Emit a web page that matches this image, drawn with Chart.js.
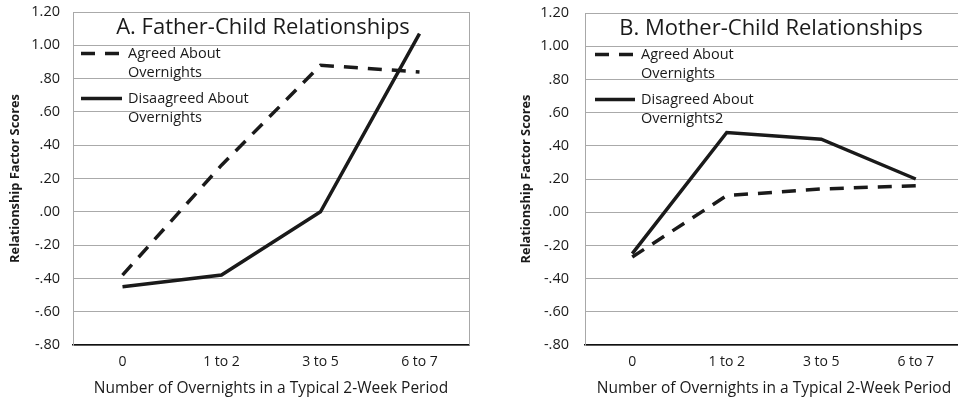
<!DOCTYPE html>
<html>

<head>
    <title>Overnights and Relationships</title>
    <script src="https://cdn.jsdelivr.net/npm/chart.js"></script>
    <style>
        body {
            margin: 0;
            width: 958px;
            height: 402px;
            overflow: hidden;
            background: #fff;
            position: relative;
        }

        .panel {
            position: absolute;
            top: 0;
            height: 402px;
        }

        #panel-a {
            left: 0;
            width: 478px;
        }

        #panel-b {
            left: 478px;
            width: 490px;
        }
    </style>
</head>

<body>
    <div class="panel" id="panel-a"><canvas id="chart-a"></canvas></div>
    <div class="panel" id="panel-b"><canvas id="chart-b"></canvas></div>

    <script>
        // data
        const categories = ['0', '1 to 2', '3 to 5', '6 to 7'];
        const yTickLabels = ['-.80', '-.60', '-.40', '-.20', '.00', '.20', '.40', '.60', '.80', '1.00', '1.20'];

        const fatherAgreed = [-0.38, 0.28, 0.88, 0.84];
        const fatherDisagreed = [-0.45, -0.38, 0.00, 1.07];
        const motherAgreed = [-0.27, 0.10, 0.14, 0.16];
        const motherDisagreed = [-0.25, 0.48, 0.44, 0.20];

        const titleA = 'A. Father-Child Relationships';
        const titleB = 'B. Mother-Child Relationships';
        const labelsA = [['Agreed About', 'Overnights'], ['Disaagreed About', 'Overnights']];
        const labelsB = [['Agreed About', 'Overnights'], ['Disagreed About', 'Overnights2']];

        const xTitle = 'Number of Overnights in a Typical 2-Week Period';
        const yTitle = 'Relationship Factor Scores';

        const FONT = "'Open Sans', 'Noto Sans', sans-serif";
        const INK = '#1a1a1a';
        const DASH = [14, 10];

        // title + legend drawn inside the plot area
        const innerPlugin = {
            id: 'inner',
            afterDraw(chart, args, opts) {
                const ctx = chart.ctx;
                const a = chart.chartArea;
                ctx.save();
                // right frame line
                ctx.strokeStyle = '#a8a8a8';
                ctx.lineWidth = 1;
                ctx.beginPath();
                ctx.moveTo(a.right + 0.5, a.top);
                ctx.lineTo(a.right + 0.5, a.bottom);
                ctx.stroke();

                // title
                ctx.fillStyle = INK;
                ctx.font = '22px ' + FONT;
                ctx.textAlign = 'center';
                ctx.textBaseline = 'middle';
                ctx.fillText(opts.title, (a.left + a.right) / 2 + opts.titleShift, a.top + 16);

                // legend
                ctx.font = '14.5px ' + FONT;
                ctx.textAlign = 'left';
                chart.data.datasets.forEach((ds, i) => {
                    const y = a.top + 41.5 + i * 45;
                    const x0 = a.left + opts.legendX;
                    ctx.strokeStyle = INK;
                    ctx.lineWidth = 3.3;
                    ctx.setLineDash(ds.borderDash || []);
                    ctx.beginPath();
                    ctx.moveTo(x0, y);
                    ctx.lineTo(x0 + opts.legendLen, y);
                    ctx.stroke();
                    ctx.setLineDash([]);
                    ds.label.forEach((t, j) => {
                        ctx.fillText(t, x0 + opts.legendLen + 6, y + j * 19.5);
                    });
                });
                ctx.restore();
            }
        };

        function makeChart(id, agreed, disagreed, labels, title, o) {
            const ctx = document.getElementById(id).getContext('2d');
            return new Chart(ctx, {
                type: 'line',
                data: {
                    labels: categories,
                    datasets: [{
                        label: labels[0],
                        data: agreed,
                        borderColor: INK,
                        borderWidth: 3.5,
                        borderDash: DASH,
                        pointRadius: 0,
                        fill: false,
                        tension: 0
                    }, {
                        label: labels[1],
                        data: disagreed,
                        borderColor: INK,
                        borderWidth: 3.5,
                        pointRadius: 0,
                        fill: false,
                        tension: 0
                    }]
                },
                options: {
                    responsive: true,
                    maintainAspectRatio: false,
                    animation: false,
                    layout: { padding: { top: o.top, right: o.right, left: 0, bottom: 0 } },
                    plugins: {
                        legend: { display: false },
                        tooltip: { enabled: false },
                        inner: { title: title, titleShift: o.titleShift, legendX: o.legendX, legendLen: o.legendLen }
                    },
                    scales: {
                        x: {
                            offset: true,
                            grid: { display: false, drawTicks: false },
                            border: { display: true, color: '#111', width: 1.5 },
                            ticks: { color: INK, padding: 9, font: { family: FONT, size: 14 } },
                            title: {
                                display: true, text: xTitle, color: INK,
                                font: { family: FONT, size: 15.5 }, padding: { top: 0, bottom: 4 }
                            },
                            afterFit: s => { s.height = 57; }
                        },
                        y: {
                            min: -0.8,
                            max: 1.2,
                            grid: { color: '#aaaaaa', lineWidth: 1, drawTicks: false },
                            border: { display: true, color: '#a8a8a8' },
                            ticks: {
                                stepSize: 0.2,
                                color: INK,
                                padding: o.tickPad,
                                font: { family: FONT, size: 14.5 },
                                callback: (v, i) => yTickLabels[i]
                            },
                            title: {
                                display: true, text: yTitle, color: INK,
                                font: { family: FONT, size: 12.8, weight: 'bold' }, padding: { top: o.yTitlePad, bottom: 0 }
                            },
                            afterFit: s => {
                                s.width = o.yWidth;
                                s.paddingTop = 0;
                                s.paddingBottom = 0;
                            }
                        }
                    }
                },
                plugins: [innerPlugin]
            });
        }

        makeChart('chart-a', fatherAgreed, fatherDisagreed, labelsA, titleA,
            { top: 12, right: 9, yWidth: 73, tickPad: 13, yTitlePad: 7.5, titleShift: -8, legendX: 8, legendLen: 41 });
        makeChart('chart-b', motherAgreed, motherDisagreed, labelsB, titleB,
            { top: 13, right: 5, yWidth: 107, tickPad: 16, yTitlePad: 40.5, titleShift: -3, legendX: 10, legendLen: 40 });
    </script>
</body>

</html>
